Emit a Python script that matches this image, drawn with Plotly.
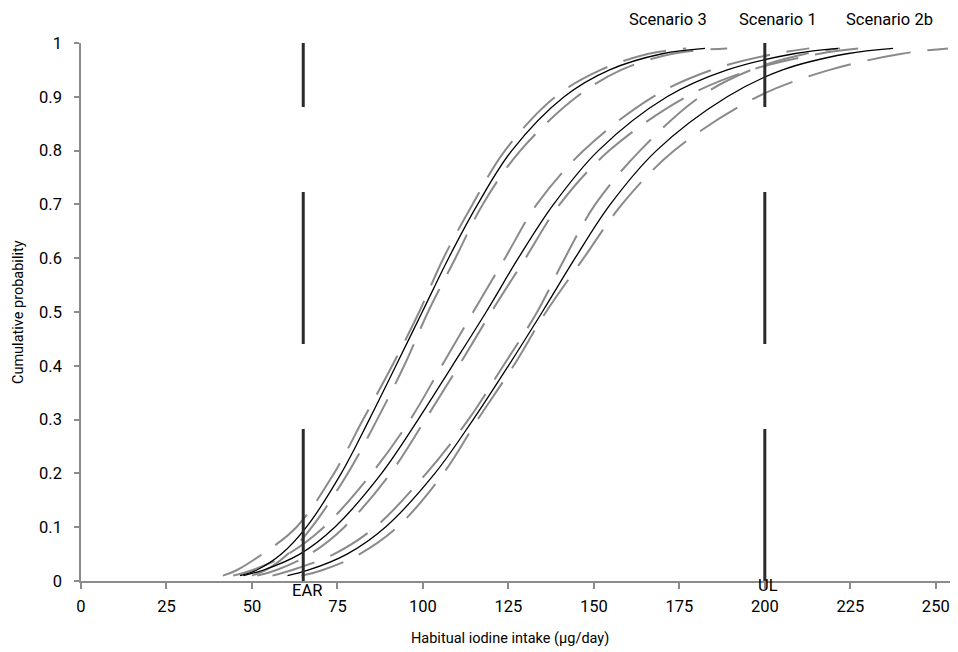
import plotly.graph_objects as go

# cumulative probability levels at which intake values were read
p_levels = [0.01, 0.02, 0.05, 0.1, 0.2, 0.3, 0.4, 0.5, 0.6, 0.7, 0.8, 0.9, 0.95, 0.98, 0.99]

# Scenario 3
s3_mid = [46.5, 51.3, 58.6, 65.9, 76.1, 84.3, 92.1, 99.8, 107.5, 116.0, 126.0, 141.3, 154.6, 170.0, 182.5]
s3_lo = [41.5, 45.5, 53.0, 63.0, 74.0, 82.5, 91.0, 98.9, 106.0, 114.5, 124.0, 138.7, 152.0, 166.0, 177.0]
s3_hi = [50.0, 54.0, 60.5, 67.5, 78.0, 86.6, 94.5, 101.5, 109.5, 117.5, 128.5, 145.0, 158.0, 173.0, 189.0]

# Scenario 1
s1_mid = [47.5, 53.2, 64.0, 74.2, 87.9, 98.6, 108.6, 118.5, 127.9, 138.2, 151.3, 171.4, 189.0, 208.5, 221.4]
s1_lo = [44.5, 50.0, 60.5, 71.0, 85.0, 96.3, 105.5, 114.7, 124.0, 133.3, 147.0, 167.3, 184.5, 203.0, 213.0]
s1_hi = [51.5, 57.0, 67.0, 77.0, 90.5, 100.7, 110.5, 120.0, 130.0, 140.0, 154.5, 177.0, 196.0, 216.0, 228.0]

# Scenario 2b
s2b_mid = [60.4, 66.4, 77.8, 89.0, 103.5, 114.7, 125.0, 134.9, 144.5, 154.8, 168.3, 189.0, 205.2, 224.0, 237.5]
s2b_lo = [56.0, 61.5, 74.0, 86.0, 101.0, 113.3, 123.5, 133.4, 141.5, 150.4, 163.5, 181.0, 196.0, 212.0, 222.0]
s2b_hi = [64.5, 70.5, 81.5, 92.5, 106.0, 116.0, 126.5, 136.0, 147.0, 158.2, 173.5, 197.8, 219.0, 240.0, 253.6]

scenario_names = ["Scenario 3", "Scenario 1", "Scenario 2b"]
scenario_label_x = [171.7, 203.9, 236.6]

ref_values = [65, 200]
ref_labels = ["EAR", "UL"]
ref_label_y = [-0.017, -0.009]

x_ticks = [0, 25, 50, 75, 100, 125, 150, 175, 200, 225, 250]
y_ticks = [0, 0.1, 0.2, 0.3, 0.4, 0.5, 0.6, 0.7, 0.8, 0.9, 1]

x_title = "Habitual iodine intake (µg/day)"
y_title = "Cumulative probability"

FONT = "Roboto"
FS = 16.5       # tick labels and in-plot labels
FS_T = 14.5     # axis titles
fig = go.Figure()

for lo, hi in [(s3_lo, s3_hi), (s1_lo, s1_hi), (s2b_lo, s2b_hi)]:
    for arr in (lo, hi):
        fig.add_trace(go.Scatter(x=arr, y=p_levels, mode="lines", line_shape="spline",
                                 line=dict(color="#8a8a8a", width=2, dash="44px,17px"),
                                 showlegend=False, hoverinfo="skip"))

for mid, name in zip([s3_mid, s1_mid, s2b_mid], scenario_names):
    fig.add_trace(go.Scatter(x=mid, y=p_levels, mode="lines", line_shape="spline",
                             line=dict(color="#000000", width=1.3), name=name, showlegend=False))

for v in ref_values:
    fig.add_trace(go.Scatter(x=[v, v], y=[0, 1], mode="lines",
                             line=dict(color="#2b2b2b", width=3, dash="152px,85px"),
                             showlegend=False, hoverinfo="skip", cliponaxis=False))

annotations = []
for name, xv in zip(scenario_names, scenario_label_x):
    annotations.append(dict(x=xv, y=1.044, xref="x", yref="paper", text=name, showarrow=False,
                            font=dict(family=FONT, size=FS, color="#000"), xanchor="center", yanchor="middle"))
for v, lab, ly in zip(ref_values, ref_labels, ref_label_y):
    annotations.append(dict(x=v + 1, y=ly, xref="x", yref="paper", text=lab, showarrow=False,
                            font=dict(family=FONT, size=FS, color="#000"), xanchor="center", yanchor="middle"))
annotations.append(dict(x=0.489, y=-0.106, xref="paper", yref="paper", text=x_title, showarrow=False,
                        font=dict(family=FONT, size=FS_T, color="#000"), xanchor="center", yanchor="middle"))
annotations.append(dict(x=-0.0718, y=0.5, xref="paper", yref="paper", text=y_title, showarrow=False,
                        textangle=-90, font=dict(family=FONT, size=FS_T, color="#000"),
                        xanchor="center", yanchor="middle"))

fig.update_layout(
    width=950, height=644,
    margin=dict(l=73, r=0, t=35, b=71),
    paper_bgcolor="white", plot_bgcolor="white",
    font=dict(family=FONT, size=FS, color="#000"),
    annotations=annotations,
    xaxis=dict(range=[0, 256.5], tickvals=x_ticks, ticktext=[str(t) for t in x_ticks],
               showgrid=False, zeroline=False, showline=True, linecolor="#8c8c8c", linewidth=1.5,
               ticks="outside", ticklen=6, tickcolor="#8c8c8c", tickwidth=1.5,
               tickfont=dict(family=FONT, size=FS, color="#000"),
               ticklabelstandoff=3, automargin=False),
    yaxis=dict(range=[0, 1], tickvals=y_ticks, ticktext=[("%g" % t) for t in y_ticks],
               showgrid=False, zeroline=False, showline=True, linecolor="#8c8c8c", linewidth=1.5,
               ticks="outside", ticklen=5, tickcolor="#8c8c8c", tickwidth=1.5,
               tickfont=dict(family=FONT, size=FS, color="#000"),
               ticklabelstandoff=9, automargin=False),
)

fig.write_html("out.html")
